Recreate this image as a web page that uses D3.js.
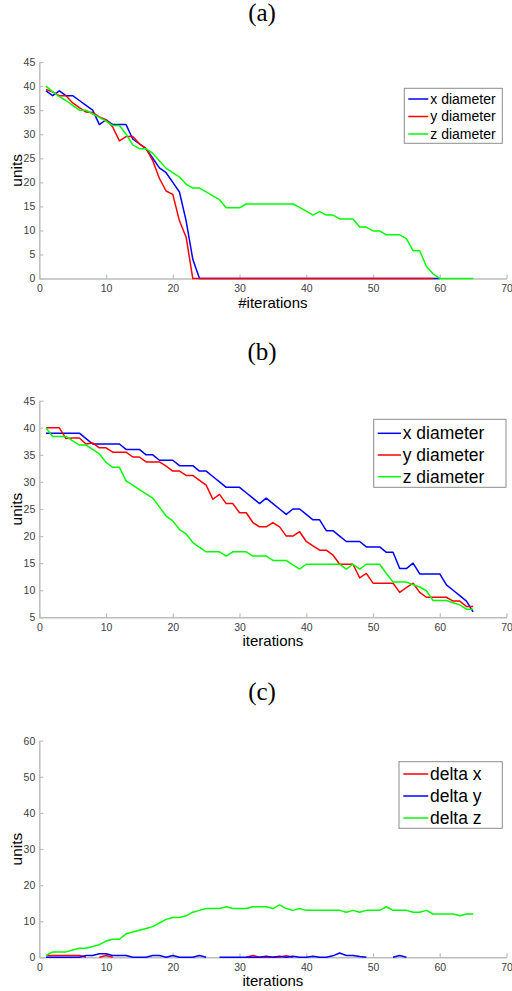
<!DOCTYPE html>
<html>
<head>
<meta charset="utf-8">
<script src="https://cdn.jsdelivr.net/npm/d3@7/dist/d3.min.js"></script>
<style>
  html, body { margin: 0; padding: 0; background: #fff; }
  svg { display: block; }
</style>
</head>
<body>
<svg id="chart" width="512" height="991"></svg>
<script>
// ---------------- DATA ----------------
const iterations = [1,2,3,4,5,6,7,8,9,10,11,12,13,14,15,16,17,18,19,20,21,22,23,24,25,26,27,28,29,30,
  31,32,33,34,35,36,37,38,39,40,41,42,43,44,45,46,47,48,49,50,51,52,53,54,55,56,57,58,59,60,61,62,63,64,65];

const xTicks = [0,10,20,30,40,50,60,70];
const yTicksA = [0,5,10,15,20,25,30,35,40,45];
const yTicksB = [5,10,15,20,25,30,35,40,45];
const yTicksC = [0,10,20,30,40,50,60];

const panelTitles = ["(a)", "(b)", "(c)"];
const xLabels = ["#iterations", "iterations", "iterations"];
const yLabel = "units";

const legendNamesAB = ["x diameter", "y diameter", "z diameter"];
const legendNamesC = ["delta x", "delta y", "delta z"];

// Panel (a)
const aXDiameter = [39,38,39,38,38,37,36,35,32,33,32,32,32,29,28,27,25,23,22,20,18,12,4,0,
  0,0,0,0,0,0,0,0,0,0,0,0,0,0,0,0,0,0,0,0,0,0,0,0,0,0,0,0,0,0,0,0,0,0,0,0];
const aYDiameter = [39.3,38.8,38,38,36.5,35.5,34.6,34.5,33.6,33,31.5,28.6,29.5,29.5,28,27,24.5,20.8,18.2,17.5,12,8.6,0,
  0,0,0,0,0,0,0,0,0,0,0,0,0,0,0,0,0,0,0,0,0,0,0,0,0,0,0,0,0,0,0,0,0,0,0,0];
const aZDiameter = [40,38.8,37.8,37,36,35,35,34.2,33.5,32.7,
  31.8,31.8,30,27.8,27,27,26,24.5,22.9,22,
  21.1,19.6,18.8,18.8,18,17.2,16.4,14.7,14.7,14.7,
  15.5,15.5,15.5,15.5,15.5,15.5,15.5,15.5,14.8,14,
  13.2,13.9,13.2,13.2,12.4,12.4,12.4,10.7,10.7,9.9,
  9.9,9.1,9.1,9.1,8.3,5.8,5.8,2.5,1,0,
  0,0,0,0,0];

// Panel (b)
const bXDiameter = [39,39,39,39,39,39,38,37,37,37,
  37,37,36,36,36,35,35,34,34,34,
  33,33,33,32,32,31,30,29,29,29,
  28,27,26,27,26,25,24,25,25,24,
  23,23,21,21,20,19,19,19,18,18,
  18,17,17,14,14,15,13,13,13,13,
  11,10,9,8,6];
const bYDiameter = [40,40,40,38,38.1,38.1,37,37.2,36.3,36.3,
  35.5,35.5,35.5,34.6,34.6,33.7,33.7,33.7,32.9,32,
  32,31.2,31.2,30.3,29.4,26.8,27.7,26,26,24.3,
  24.3,22.5,21.7,21.7,22.5,21.7,20,20,20.8,19,
  18.2,17.4,17.4,16.5,14.8,14.8,14.8,12.3,13.1,11.3,
  11.3,11.3,11.3,9.6,10.5,11.3,9.6,8.7,8.7,8.7,
  8.7,8,8,7,7];
const bZDiameter = [40,38.4,38.4,38.4,37.6,36.8,36.8,36,35.2,33.6,
  32.7,32.7,30.2,29.4,28.6,27.8,27,25.4,23.7,22.8,
  21.2,20.4,18.8,17.9,17.1,17.1,17.1,16.3,17.1,17.1,
  17.1,16.3,16.3,16.3,15.5,15.5,15.5,14.7,13.9,14.8,
  14.8,14.8,14.8,14.8,14.8,13.9,14.8,13.9,14.8,14.8,
  14.8,13.1,11.5,11.5,11.5,11,10.6,9.9,8.1,8.1,
  8.1,7.7,7.3,6.5,6.5];

// Panel (c)  (null = no line drawn)
const cDeltaX = [0.5,0.5,0.5,0.5,0.5,0.5,0,null,0,0.5,
  0,null,null,null,null,null,null,null,null,null,
  null,null,null,null,null,null,null,null,null,null,
  0,0.5,0,0,0,0,0.4,0,null,null,
  null,null,null,null,null,null,null,null,null,null,
  null,null,null,null,null,null,null,null,null,null,
  null,null,null,null,null];
const cDeltaY = [0,0,0,0,0,0,0.5,0.5,1,1,
  0.5,0.5,0.5,0,0,0,0.5,0.5,0,0.5,
  0,0,0,0.5,0,null,0,0,0,0,
  0,0,0,0.3,0,0.3,0,0.3,0,0,
  0.3,0,0,0.4,1.2,0.5,0.5,0.2,0,null,
  null,null,0,0.5,0,null,null,null,null,null,
  null,null,null,null,null];
const cDeltaZ = [0.5,1.5,1.5,1.5,2,2.5,2.5,3,3.5,4.5,
  5,5,6.5,7,7.5,8,8.5,9.5,10.5,11,
  11,11.5,12.5,13,13.5,13.5,13.5,14,13.5,13.5,
  13.5,14,14,14,13.5,14.5,13.5,13,13.5,13,
  13,13,13,13,13,12.5,13,12.5,13,13,
  13,14,13,13,13,12.5,12.5,13,12,12,
  12,12,11.5,12,12];

// ---------------- DRAWING ----------------
const svg = d3.select("#chart");
const BLUE = "#0000ff", RED = "#ff0000", GREEN = "#00ff00";
const AXIS = "#bdbdbd", TICKTXT = "#404040";
const X0 = 39.3, X1 = 506.5;
const PH = 216.6;

const panels = [
  { top: 62, yDomain: [0,45], yTicks: yTicksA, title: panelTitles[0], xLabel: xLabels[0],
    series: [
      { vals: aXDiameter, color: BLUE },
      { vals: aYDiameter, color: RED },
      { vals: aZDiameter, color: GREEN } ],
    legend: { names: legendNamesAB, colors: [BLUE, RED, GREEN], x: 404.3, y: 26.3, w: 98, h: 55,
              rowY0: 10.7, rowDy: 17.5, lx0: 4, lx1: 24, tx: 26, fs: 14 } },
  { top: 400.7, yDomain: [5,45], yTicks: yTicksB, title: panelTitles[1], xLabel: xLabels[1],
    series: [
      { vals: bXDiameter, color: BLUE },
      { vals: bYDiameter, color: RED },
      { vals: bZDiameter, color: GREEN } ],
    legend: { names: legendNamesAB, colors: [BLUE, RED, GREEN], x: 373.7, y: 18.6, w: 132.3, h: 68,
              rowY0: 14, rowDy: 21.7, lx0: 4, lx1: 27.3, tx: 29, fs: 17.5 } },
  { top: 740.7, yDomain: [0,60], yTicks: yTicksC, title: panelTitles[2], xLabel: xLabels[2],
    series: [
      { vals: cDeltaX, color: RED },
      { vals: cDeltaY, color: BLUE },
      { vals: cDeltaZ, color: GREEN } ],
    legend: { names: legendNamesC, colors: [RED, BLUE, GREEN], x: 399, y: 21, w: 103.3, h: 66.6,
              rowY0: 12.3, rowDy: 22, lx0: 4.3, lx1: 29.3, tx: 31, fs: 17.5 } }
];

const x = d3.scaleLinear().domain([0,70]).range([X0, X1]);

panels.forEach(p => {
  const g = svg.append("g").attr("transform", `translate(0,${p.top})`);
  const y = d3.scaleLinear().domain(p.yDomain).range([PH, 0]);

  // title
  svg.append("text")
    .attr("x", 262).attr("y", p.top - 41)
    .attr("text-anchor", "middle")
    .attr("font-family", "'Liberation Serif', 'DejaVu Serif', serif")
    .attr("font-size", 25)
    .attr("fill", "#000")
    .text(p.title);

  // axes
  const xa = g.append("g").attr("transform", `translate(0,${PH})`)
    .call(d3.axisBottom(x).tickValues(xTicks).tickFormat(d3.format("d"))
      .tickSizeInner(-4).tickSizeOuter(0).tickPadding(6));
  const ya = g.append("g").attr("transform", `translate(${X0},0)`)
    .call(d3.axisLeft(y).tickValues(p.yTicks).tickFormat(d3.format("d"))
      .tickSizeInner(-4).tickSizeOuter(0).tickPadding(4));
  [xa, ya].forEach(a => {
    a.select(".domain").attr("stroke", AXIS).attr("stroke-width", 1.5);
    a.selectAll(".tick line").attr("stroke", AXIS).attr("stroke-width", 1.2);
    a.selectAll(".tick text").attr("fill", TICKTXT)
      .attr("font-family", "'Liberation Sans', Arial, sans-serif").attr("font-size", 10.5);
  });

  // axis labels
  g.append("text")
    .attr("x", (X0 + X1) / 2).attr("y", PH + 29)
    .attr("text-anchor", "middle")
    .attr("font-family", "'Liberation Sans', Arial, sans-serif")
    .attr("font-size", 15).attr("fill", "#000")
    .text(p.xLabel);
  g.append("text")
    .attr("transform", `translate(22,${PH / 2}) rotate(-90)`)
    .attr("text-anchor", "middle")
    .attr("font-family", "'Liberation Sans', Arial, sans-serif")
    .attr("font-size", 15.5).attr("fill", "#000")
    .text(yLabel);

  // lines
  const line = d3.line()
    .defined(d => d[1] !== null && d[1] !== undefined)
    .x(d => x(d[0])).y(d => y(d[1]));
  p.series.forEach(s => {
    const pts = s.vals.map((v, i) => [iterations[i], v]);
    g.append("path")
      .attr("d", line(pts))
      .attr("fill", "none")
      .attr("stroke", s.color)
      .attr("stroke-width", 1.5)
      .attr("stroke-linejoin", "round");
  });

  // legend
  const L = p.legend;
  const lg = g.append("g").attr("transform", `translate(${L.x},${L.y})`);
  lg.append("rect").attr("width", L.w).attr("height", L.h)
    .attr("fill", "#fff").attr("stroke", "#8c8c8c").attr("stroke-width", 1);
  L.names.forEach((n, i) => {
    const ry = L.rowY0 + i * L.rowDy;
    lg.append("line").attr("x1", L.lx0).attr("x2", L.lx1).attr("y1", ry).attr("y2", ry)
      .attr("stroke", L.colors[i]).attr("stroke-width", 1.5);
    lg.append("text").attr("x", L.tx).attr("y", ry).attr("dy", "0.35em")
      .attr("font-family", "'Liberation Sans', Arial, sans-serif")
      .attr("font-size", L.fs).attr("fill", "#000")
      .text(n);
  });
});
</script>
</body>
</html>
